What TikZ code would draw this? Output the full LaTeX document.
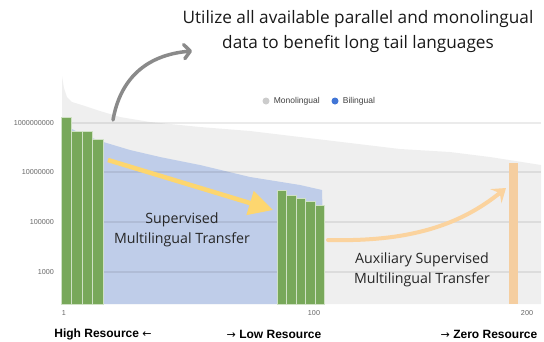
\documentclass[tikz,border=0pt]{standalone}
\usepackage{fontspec}
\setmainfont{Open Sans}
\newfontfamily\axisfont{Liberation Sans}
\newfontfamily\symfont{DejaVu Sans}
\usetikzlibrary{arrows.meta,positioning}
\definecolor{monogray}{RGB}{239,239,239}
\definecolor{biblue}{RGB}{191,205,233}
\definecolor{bargreen}{RGB}{120,168,90}
\definecolor{zerobar}{RGB}{245,206,160}
\definecolor{yellowarrow}{RGB}{253,214,111}
\definecolor{orangearrow}{RGB}{251,211,158}
\definecolor{grayarrow}{RGB}{138,138,138}
\definecolor{legendblue}{RGB}{66,118,214}
\tikzset{
	ticklabel/.style={font=\axisfont\fontsize{7.2}{8}\selectfont, text=black!60, inner sep=0pt},
	legendtext/.style={font=\axisfont\fontsize{8.5}{9}\selectfont, text=black!75, inner sep=0pt},
	legenddot/.style={circle, minimum size=7pt, inner sep=0pt},
	gridline/.style={black, opacity=0.08, line width=1.2pt},
	greenbar/.style={fill=bargreen, draw=white!65!bargreen, line width=0.7pt},
	notetext/.style={font=\fontsize{14.2}{20}\selectfont, text=black!85, align=center},
	reslabel/.style={font=\axisfont\bfseries\fontsize{12}{14}\selectfont, inner sep=0pt}
}
\newcommand{\larr}{{\symfont\mdseries\fontsize{11}{11}\selectfont ←}}
\newcommand{\rarr}{{\symfont\mdseries\fontsize{11}{11}\selectfont →}}

\begin{document}
\begin{tikzpicture}[x=1pt,y=-1pt]
	\useasboundingbox (0,0) rectangle (544,341);

	% Monolingual area
	\fill[monogray] (62,304) -- (62,76) -- (64,88) -- (67,97) -- (72,102) -- (85,106) -- (100,111)
		-- (120,117) -- (150,122) -- (200,127) -- (250,131) -- (300,137) -- (350,143)
		-- (400,149) -- (450,152) -- (490,157) -- (541,165) -- (541,304) -- cycle;

	% Bilingual area
	\fill[biblue] (62,304) -- (62,122) -- (70,128) -- (80,133) -- (100,141) -- (130,150)
		-- (160,157) -- (200,165) -- (250,177) -- (300,185) -- (322,190) -- (325,304) -- cycle;

	% Grid lines
	\foreach \yv in {123,172,222,272}
		\draw[gridline] (62,\yv) -- (541,\yv);

	% Axis labels
	\foreach \yv/\lab in {123/1000000000,172/10000000,222/100000,272/1000}
		\node[ticklabel, anchor=east] (y\lab) at (54,\yv) {\lab};
	\node[ticklabel] (x1) at (64,313) {1};
	\node[ticklabel] (x100) at (314,313) {100};
	\node[ticklabel] (x200) at (527,313) {200};

	% Legend
	\node[legenddot, fill=black!20] (monodot) at (266,101) {};
	\node[legendtext, right=4pt of monodot] (monolabel) {Monolingual};
	\node[legenddot, fill=legendblue] (bidot) at (335,101) {};
	\node[legendtext, right=4pt of bidot] (bilabel) {Bilingual};

	% High and low resource bars
	\foreach \xl/\xr/\yt in {61/71/117, 71/82/131, 82/92/131, 92/103/139,
		277/286/190, 286/296/195, 296/305/198, 305/315/201, 315/324/205}
		\filldraw[greenbar] (\xl,304) rectangle (\xr,\yt);

	% Zero resource bar
	\fill[zerobar] (509,304) rectangle (518,163);

	% Text
	\node[notetext, font=\fontsize{17.2}{25}\selectfont, text=black!90] (title) at (358,32)
		{Utilize all available parallel and monolingual\\data to benefit long tail languages};
	\node[notetext] (supervised) at (182,230) {Supervised\\Multilingual Transfer};
	\node[notetext] (auxiliary) at (422,270) {Auxiliary Supervised\\Multilingual Transfer};

	% Arrows
	\coordinate (graystart) at (113,120);
	\coordinate (graytip) at (192,51);
	\draw[grayarrow, line width=3.5pt, line cap=round, -{Straight Barb[length=6pt,width=14pt,round]}]
		(graystart) .. controls (120,80) and (145,55) .. (graytip);

	\coordinate (yellowstart) at (108,160);
	\coordinate (yellowtip) at (273,210);
	\draw[yellowarrow, line width=4.5pt, -{Triangle[length=24pt,width=24pt]}] (yellowstart) -- (yellowtip);

	\coordinate (orangestart) at (328,240);
	\coordinate (orangetip) at (506,188);
	\draw[orangearrow, line width=4pt, line cap=round, -{Stealth[length=13pt,width=18pt,inset=5pt]}]
		(orangestart) .. controls (410,242) and (460,225) .. (orangetip);

	% Resource labels
	\node[reslabel] (high) at (103,334) {High Resource \larr};
	\node[reslabel] (low) at (274,334) {\rarr\ Low Resource};
	\node[reslabel] (zero) at (489,334) {\rarr\ Zero Resource};

\end{tikzpicture}
\end{document}
